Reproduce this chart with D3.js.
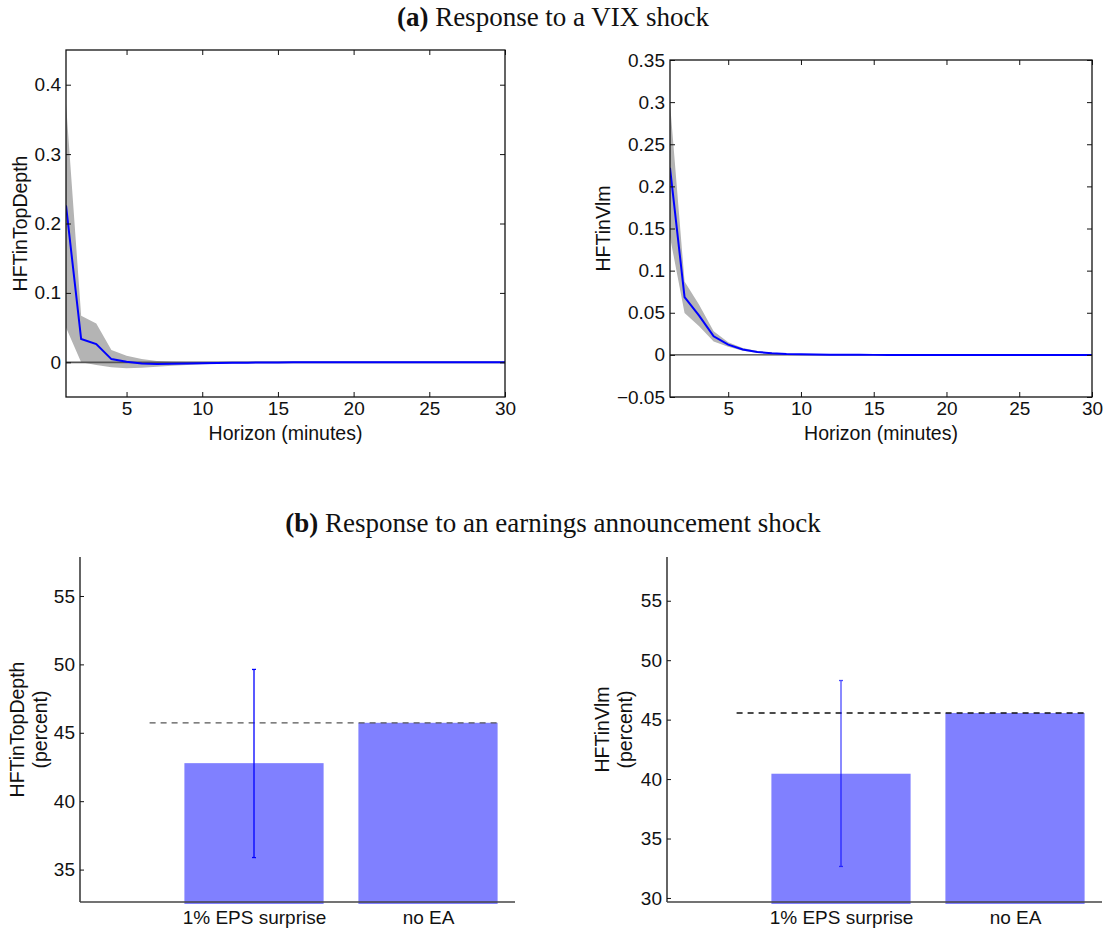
<!DOCTYPE html>
<html>
<head>
<meta charset="utf-8">
<script src="https://cdn.jsdelivr.net/npm/d3@7"></script>
<style>
  body { margin: 0; background: #fff; }
  svg { display: block; }
  .tick text { font-family: "Liberation Sans", Arial, sans-serif; font-size: 19px; fill: #111; }
  .lbl { font-family: "Liberation Sans", Arial, sans-serif; font-size: 19.5px; fill: #111; }
  .title { font-family: "Liberation Serif", "Times New Roman", serif; font-size: 27px; fill: #111; }
</style>
</head>
<body>
<svg id="chart" width="1106" height="928"></svg>
<script>
// horizon in minutes
const horizon = d3.range(1, 31);

// (a) response of HFTinTopDepth to a VIX shock
const depthMean = [0.226, 0.0335, 0.0263, 0.0046, 0.0007, -0.0017, -0.0024, -0.0022, -0.0018, -0.0014,
  -0.001, -0.0007, -0.0005, -0.0003, -0.0002, -0.0001, 0, 0, 0, 0, 0, 0, 0, 0, 0, 0, 0, 0, 0, 0];
const depthUpper = [0.373, 0.067, 0.056, 0.0176, 0.0094, 0.0046, 0.002, 0.0009, 0.0004, 0.0002,
  0.0001, 0, 0, 0, 0, 0, 0, 0, 0, 0, 0, 0, 0, 0, 0, 0, 0, 0, 0, 0];
const depthLower = [0.05, 0.0, -0.004, -0.007, -0.0085, -0.0078, -0.0065, -0.005, -0.0038, -0.0028,
  -0.002, -0.0014, -0.001, -0.0007, -0.0005, -0.0003, -0.0002, -0.0001, 0, 0, 0, 0, 0, 0, 0, 0, 0, 0, 0, 0];

// (a) response of HFTinVlm to a VIX shock
const vlmMean = [0.222, 0.0687, 0.0466, 0.022, 0.0122, 0.0063, 0.0035, 0.0018, 0.001, 0.0006,
  0.0004, 0.0002, 0.0001, 0.0001, 0, 0, 0, 0, 0, 0, 0, 0, 0, 0, 0, 0, 0, 0, 0, 0];
const vlmUpper = [0.299, 0.087, 0.0596, 0.028, 0.015, 0.0083, 0.0046, 0.0025, 0.0014, 0.0008,
  0.0005, 0.0003, 0.0002, 0.0001, 0, 0, 0, 0, 0, 0, 0, 0, 0, 0, 0, 0, 0, 0, 0, 0];
const vlmLower = [0.14, 0.0498, 0.034, 0.016, 0.0095, 0.0048, 0.0026, 0.0013, 0.0007, 0.0004,
  0.0002, 0.0001, 0, 0, 0, 0, 0, 0, 0, 0, 0, 0, 0, 0, 0, 0, 0, 0, 0, 0];

// (b) response to an earnings announcement shock
const barCategories = ["1% EPS surprise", "no EA"];
const depthBars = [42.78, 45.73];
const depthErr = [35.88, 49.63];
const vlmBars = [40.45, 45.56];
const vlmErr = [32.65, 48.29];

const svg = d3.select("#chart");
const BLUE = "#0000ff";
const BAND = "#b4b4b4";

svg.append("text").attr("class", "title")
  .attr("x", 553).attr("y", 26).attr("text-anchor", "middle")
  .call(t => {
    t.append("tspan").attr("font-weight", "bold").text("(a)");
    t.append("tspan").text(" Response to a VIX shock");
  });

svg.append("text").attr("class", "title")
  .attr("x", 553).attr("y", 532).attr("text-anchor", "middle")
  .call(t => {
    t.append("tspan").attr("font-weight", "bold").text("(b)");
    t.append("tspan").text(" Response to an earnings announcement shock");
  });

function linePanel(opts) {
  const { left, right, top, bottom, yDomain, yTicks, fmt, mean, upper, lower, yLabel, labelX, zeroColor, zeroWidth, id } = opts;
  const x = d3.scaleLinear().domain([1, 30]).range([left, right]);
  const y = d3.scaleLinear().domain(yDomain).range([bottom, top]);
  const g = svg.append("g");

  g.append("clipPath").attr("id", id)
    .append("rect").attr("x", left).attr("y", top).attr("width", right - left).attr("height", bottom - top);

  const plot = g.append("g").attr("clip-path", `url(#${id})`);
  const rows = horizon.map((h, i) => ({ h, m: mean[i], hi: upper[i], lo: lower[i] }));

  plot.append("path").datum(rows)
    .attr("fill", BAND)
    .attr("d", d3.area().x(d => x(d.h)).y0(d => y(d.lo)).y1(d => y(d.hi)));

  plot.append("line")
    .attr("x1", left).attr("x2", right).attr("y1", y(0)).attr("y2", y(0))
    .attr("stroke", zeroColor).attr("stroke-width", zeroWidth);

  plot.append("path").datum(rows)
    .attr("fill", "none").attr("stroke", BLUE).attr("stroke-width", 2)
    .attr("d", d3.line().x(d => x(d.h)).y(d => y(d.m)));

  const xTicks = [5, 10, 15, 20, 25, 30];
  g.append("g").attr("transform", `translate(0,${bottom})`)
    .call(d3.axisBottom(x).tickValues(xTicks).tickSizeInner(-5).tickSizeOuter(0).tickPadding(5));
  g.append("g").attr("transform", `translate(0,${top})`)
    .call(d3.axisTop(x).tickValues(xTicks).tickSizeInner(-5).tickSizeOuter(0).tickFormat(""));
  g.append("g").attr("transform", `translate(${left},0)`)
    .call(d3.axisLeft(y).tickValues(yTicks).tickFormat(fmt).tickSizeInner(-5).tickSizeOuter(0).tickPadding(5));
  g.append("g").attr("transform", `translate(${right},0)`)
    .call(d3.axisRight(y).tickValues(yTicks).tickSizeInner(-5).tickSizeOuter(0).tickFormat(""));

  g.selectAll(".domain").remove();
  g.selectAll(".tick line").attr("stroke", "#111").attr("stroke-width", 1);

  g.append("rect")
    .attr("x", left).attr("y", top).attr("width", right - left).attr("height", bottom - top)
    .attr("fill", "none").attr("stroke", "#111").attr("stroke-width", 1.3);

  g.append("text").attr("class", "lbl")
    .attr("x", (left + right) / 2).attr("y", 440).attr("text-anchor", "middle")
    .text("Horizon (minutes)");

  g.append("text").attr("class", "lbl")
    .attr("transform", `translate(${labelX},${(top + bottom) / 2}) rotate(-90)`)
    .attr("text-anchor", "middle").attr("dominant-baseline", "central")
    .text(yLabel);
}

function barPanel(opts) {
  const { left, yDomain, yTicks, bars, err, yLabel, labelX, dashColor, errOpacity } = opts;
  const top = 557, bottom = 902;
  const x = d3.scaleLinear().domain([0, 2.5]).range([left, left + 435]);
  const y = d3.scaleLinear().domain(yDomain).range([bottom, top]);
  const g = svg.append("g");
  const barW = 0.8;

  g.append("g").attr("transform", `translate(0,${bottom})`)
    .call(d3.axisBottom(x).tickValues([1, 2]).tickFormat((d, i) => barCategories[i])
      .tickSizeInner(-5).tickSizeOuter(0).tickPadding(9));

  g.selectAll("rect.bar").data(bars).join("rect").attr("class", "bar")
    .attr("x", (d, i) => x(i + 1 - barW / 2))
    .attr("width", x(barW) - x(0))
    .attr("y", d => y(d))
    .attr("height", d => bottom - y(d) + 2)
    .attr("fill", "#8080ff");

  g.append("line")
    .attr("x1", x(0.4)).attr("x2", x(2.4)).attr("y1", y(bars[1])).attr("y2", y(bars[1]))
    .attr("stroke", dashColor).attr("stroke-width", 1.3).attr("stroke-dasharray", "6,5");

  const eg = g.append("g").attr("stroke", BLUE).attr("stroke-width", 1.3).attr("opacity", errOpacity);
  eg.append("line").attr("x1", x(1)).attr("x2", x(1)).attr("y1", y(err[0])).attr("y2", y(err[1]));
  eg.selectAll("line.cap").data(err).join("line").attr("class", "cap")
    .attr("x1", x(1) - 2).attr("x2", x(1) + 2).attr("y1", d => y(d)).attr("y2", d => y(d));

  g.append("g").attr("transform", `translate(${left},0)`)
    .call(d3.axisLeft(y).tickValues(yTicks).tickSizeInner(-4).tickSizeOuter(0).tickPadding(5));

  g.selectAll(".domain").remove();
  g.selectAll(".tick line").attr("stroke", "#111");

  g.append("line").attr("x1", left).attr("x2", left).attr("y1", top).attr("y2", bottom)
    .attr("stroke", "#111").attr("stroke-width", 1.3);
  g.append("line").attr("x1", left).attr("x2", left + 435).attr("y1", bottom).attr("y2", bottom)
    .attr("stroke", "#444").attr("stroke-width", 1.6);

  const t = g.append("text").attr("class", "lbl")
    .attr("transform", `translate(${labelX},${(top + bottom) / 2}) rotate(-90)`)
    .attr("text-anchor", "middle");
  t.append("tspan").attr("x", 0).attr("dy", 0).text(yLabel);
  t.append("tspan").attr("x", 0).attr("dy", 23).text("(percent)");
}

linePanel({
  id: "clipA1", left: 66, right: 505, top: 50, bottom: 397,
  yDomain: [-0.05, 0.45], yTicks: [0, 0.1, 0.2, 0.3, 0.4], fmt: d => d3.format("")(d),
  mean: depthMean, upper: depthUpper, lower: depthLower,
  yLabel: "HFTinTopDepth", labelX: 20, zeroColor: "#555", zeroWidth: 1.8
});

linePanel({
  id: "clipA2", left: 670, right: 1092, top: 60, bottom: 397,
  yDomain: [-0.05, 0.35], yTicks: [-0.05, 0, 0.05, 0.1, 0.15, 0.2, 0.25, 0.3, 0.35],
  fmt: d => (d < 0 ? "\u2212" + d3.format("")(-d) : d3.format("")(d)),
  mean: vlmMean, upper: vlmUpper, lower: vlmLower,
  yLabel: "HFTinVlm", labelX: 603, zeroColor: "#111", zeroWidth: 1
});

barPanel({
  left: 80, yDomain: [32.63, 57.85], yTicks: [35, 40, 45, 50, 55],
  bars: depthBars, err: depthErr, yLabel: "HFTinTopDepth", labelX: 24,
  dashColor: "#555", errOpacity: 1
});

barPanel({
  left: 667, yDomain: [29.66, 58.68], yTicks: [30, 35, 40, 45, 50, 55],
  bars: vlmBars, err: vlmErr, yLabel: "HFTinVlm", labelX: 609,
  dashColor: "#111", errOpacity: 0.7
});
</script>
</body>
</html>
